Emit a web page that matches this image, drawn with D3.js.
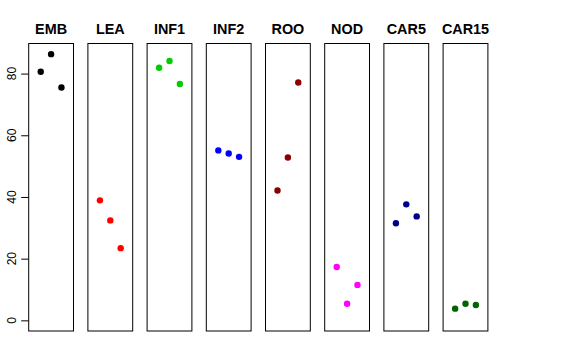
<!DOCTYPE html>
<html><head><meta charset="utf-8">
<script src="https://cdn.jsdelivr.net/npm/d3@7"></script>
<style>body{margin:0;background:#fff}svg{display:block}</style>
</head><body>
<script>
const categories = ["EMB","LEA","INF1","INF2","ROO","NOD","CAR5","CAR15"];
const colors = ["#000000","#FF0000","#00CD00","#0000FF","#8B0000","#FF00FF","#00008B","#006400"];
const valuesEMB   = [80.6, 86.3, 75.5];
const valuesLEA   = [38.9, 32.4, 23.4];
const valuesINF1  = [81.9, 84.1, 76.6];
const valuesINF2  = [55.1, 54.1, 53.0];
const valuesROO   = [42.1, 52.8, 77.1];
const valuesNOD   = [17.3, 5.4, 11.5];
const valuesCAR5  = [31.5, 37.6, 33.7];
const valuesCAR15 = [3.8, 5.4, 5.0];
const yTicks = [0, 20, 40, 60, 80];
const series = [valuesEMB, valuesLEA, valuesINF1, valuesINF2, valuesROO, valuesNOD, valuesCAR5, valuesCAR15];

(function () {
const W = 576, H = 360;
const svg = d3.select("body").append("svg").attr("width", W).attr("height", H);

const plotTop = 43.5, plotBottom = 331;
const ymax = d3.max(series.flat());
const ypad = ymax * 0.04;
const y = d3.scaleLinear().domain([0 - ypad, ymax + ypad]).range([plotBottom, plotTop]);

const panelLeft0 = 28.7, panelStep = 59.2, panelW = 44.8;

categories.forEach((cat, i) => {
  const left = panelLeft0 + panelStep * i;
  const x = d3.scaleLinear().domain([0 - 0.16, 4 + 0.16]).range([left, left + panelW]);
  const g = svg.append("g");
  g.append("rect").attr("x", left).attr("y", plotTop).attr("width", panelW).attr("height", plotBottom - plotTop)
    .attr("fill", "none").attr("stroke", "#000").attr("stroke-width", 1);
  g.append("text").attr("x", left + panelW / 2).attr("y", 34)
    .attr("text-anchor", "middle").attr("font-family", "Liberation Sans, Arial, sans-serif")
    .attr("font-weight", "bold").attr("font-size", "14.4px").text(cat);
  g.selectAll("circle").data(series[i]).enter().append("circle")
    .attr("cx", (d, j) => x(j + 1)).attr("cy", d => y(d)).attr("r", 3.2)
    .attr("fill", colors[i]);
});

const axis = d3.axisLeft(y).tickValues(yTicks).tickSize(7.5).tickFormat(d3.format("d"));
const ag = svg.append("g").attr("transform", `translate(${panelLeft0},0)`).call(axis);
ag.select(".domain").remove();
ag.selectAll(".tick line").attr("stroke", "#000");
ag.selectAll(".tick text").remove();
yTicks.forEach(t => {
  svg.append("text").attr("transform", `translate(16,${y(t)}) rotate(-90)`)
    .attr("text-anchor", "middle").attr("font-family", "Liberation Sans, Arial, sans-serif")
    .attr("font-size", "12px").attr("fill", "#000").text(t);
});
})();
</script>
</body></html>
